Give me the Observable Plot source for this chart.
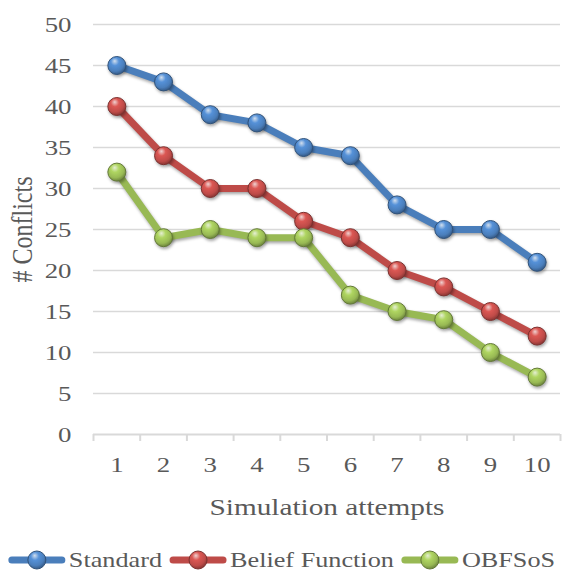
<!DOCTYPE html>
<html>
<head>
<meta charset="utf-8">
<script src="https://cdn.jsdelivr.net/npm/d3@7"></script>
<script src="https://cdn.jsdelivr.net/npm/@observablehq/plot@0.6"></script>
<style>
  html, body { margin: 0; padding: 0; background: #fff; }
  body { width: 562px; font-family: "Liberation Serif", "Times New Roman", Times, serif; color: #595959; }
  #chart svg, #legend svg { display: block; }
  #chart svg text { font-family: "Liberation Serif", "Times New Roman", Times, serif; font-size: 22px; fill: #595959; }
  #chart svg g[aria-label="x-axis label"] text, #chart svg g[aria-label="y-axis label"] text { font-size: 24px; }
  #chart g[aria-label="line"] { filter: drop-shadow(1px 2px 1.5px rgba(0,0,0,0.35)); }
  #chart g[aria-label="dot"] { filter: drop-shadow(1px 2px 1.5px rgba(0,0,0,0.35)); }
  #legend text { font-family: "Liberation Serif", "Times New Roman", Times, serif; font-size: 21.5px; fill: #595959; }
</style>
</head>
<body>
<div id="chart"></div>
<div id="legend"></div>
<script>
const attempts = [1, 2, 3, 4, 5, 6, 7, 8, 9, 10];
const standard = [45, 43, 39, 38, 35, 34, 28, 25, 25, 21];
const beliefFunction = [40, 34, 30, 30, 26, 24, 20, 18, 15, 12];
const obfsos = [32, 24, 25, 24, 24, 17, 15, 14, 10, 7];
const seriesNames = ["Standard", "Belief Function", "OBFSoS"];
const seriesColors = ["#4a7ebb", "#be4b48", "#98b954"];
const gradIds = ["gBlue", "gRed", "gGreen"];
const yTicks = [0, 5, 10, 15, 20, 25, 30, 35, 40, 45, 50];
const xBoundaries = [0.5, 1.5, 2.5, 3.5, 4.5, 5.5, 6.5, 7.5, 8.5, 9.5, 10.5];

const STRETCH = 1.22;

const seriesValues = [standard, beliefFunction, obfsos];
const data = [];
seriesNames.forEach((name, i) => {
  attempts.forEach((a, j) => data.push({series: name, attempt: a, value: seriesValues[i][j], si: i}));
});

const font = `"Liberation Serif", "Times New Roman", Times, serif`;

const plot = Plot.plot({
  width: 562,
  height: 530,
  marginLeft: 93,
  marginRight: 2,
  marginTop: 24,
  marginBottom: 96,
  style: { fontFamily: font, fontSize: "22px", color: "#595959", background: "#fff" },
  x: { type: "linear", domain: [0.5, 10.5] },
  y: { domain: [0, 50] },
  marks: [
    Plot.gridY(yTicks.filter(d => d > 0), { stroke: "#d9d9d9", strokeOpacity: 1, strokeWidth: 1.5 }),
    Plot.ruleY([0], { stroke: "#d9d9d9", strokeWidth: 2 }),
    Plot.axisX({ ticks: xBoundaries, tickFormat: () => "", tickSize: 7, stroke: "#d9d9d9", strokeWidth: 2, label: null }),
    Plot.axisX({ ticks: attempts, tickSize: 0, tickPadding: 22, tickFormat: d => String(d),
      label: "Simulation attempts", labelAnchor: "center", labelOffset: 80, labelArrow: "none" }),
    Plot.axisY({ ticks: yTicks, tickSize: 0, tickPadding: 22,
      label: "# Conflicts", labelAnchor: "center", labelOffset: 82, labelArrow: "none" }),
    Plot.line(data, { x: "attempt", y: "value", z: "series", stroke: d => seriesColors[d.si], strokeWidth: 7, strokeLinejoin: "round", strokeLinecap: "butt" }),
    Plot.dot(data, { x: "attempt", y: "value", r: 9, fill: d => `url(#${gradIds[d.si]})`, stroke: d => d3.color(seriesColors[d.si]).darker(1.2).formatHex(), strokeWidth: 1 })
  ]
});

function addGrad(defs, id, c) {
  const base = d3.color(c);
  const g = defs.append("radialGradient").attr("id", id)
    .attr("cx", "0.42").attr("cy", "0.35").attr("r", "0.65").attr("fx", "0.38").attr("fy", "0.25");
  g.append("stop").attr("offset", "0%").attr("stop-color", d3.interpolateRgb(base, "#fff")(0.75));
  g.append("stop").attr("offset", "35%").attr("stop-color", base.brighter(0.4).formatHex());
  g.append("stop").attr("offset", "75%").attr("stop-color", base.formatHex());
  g.append("stop").attr("offset", "100%").attr("stop-color", base.darker(0.9).formatHex());
}
const defs = d3.select(plot).insert("defs", ":first-child");
seriesColors.forEach((c, i) => addGrad(defs, gradIds[i], c));
document.getElementById("chart").appendChild(plot);

// the reference's lettering is horizontally widened; widen each label around its anchor
d3.select(plot).selectAll("text").each(function () {
  const t = d3.select(this);
  let tr = t.attr("transform");
  if (!tr) {
    const x = +t.attr("x") || 0, y = +t.attr("y") || 0;
    t.attr("x", null).attr("y", null);
    tr = `translate(${x},${y})`;
  }
  t.attr("transform", tr + (tr.includes("rotate") ? ` scale(1,${STRETCH})` : ` scale(${STRETCH},1)`));
});

// legend
const lsvg = d3.select("#legend").append("svg").attr("width", 562).attr("height", 47);
const ldefs = lsvg.append("defs");
let cursor = 0;
const swW = 56, gapText = 4, gapItem = 8, cy = 30;
const lg = lsvg.append("g");
seriesNames.forEach((name, i) => {
  addGrad(ldefs, "l" + gradIds[i], seriesColors[i]);
  const g = lg.append("g");
  g.append("line").attr("x1", cursor + 3).attr("x2", cursor + swW - 3).attr("y1", cy).attr("y2", cy)
    .attr("stroke", seriesColors[i]).attr("stroke-width", 7).attr("stroke-linecap", "round");
  g.append("circle").attr("cx", cursor + swW / 2).attr("cy", cy).attr("r", 9)
    .attr("fill", `url(#l${gradIds[i]})`).attr("stroke", d3.color(seriesColors[i]).darker(1.2).formatHex());
  const tx = cursor + swW + gapText;
  const t = g.append("text").attr("transform", `translate(${tx},${cy}) scale(${STRETCH},1)`)
    .attr("dy", "0.33em").text(name);
  const w = t.node().getComputedTextLength() * STRETCH;
  cursor = tx + w + gapItem;
});
const total = cursor - gapItem;
lg.attr("transform", `translate(${(562 - total) / 2 + 1},0)`);
</script>
</body>
</html>
